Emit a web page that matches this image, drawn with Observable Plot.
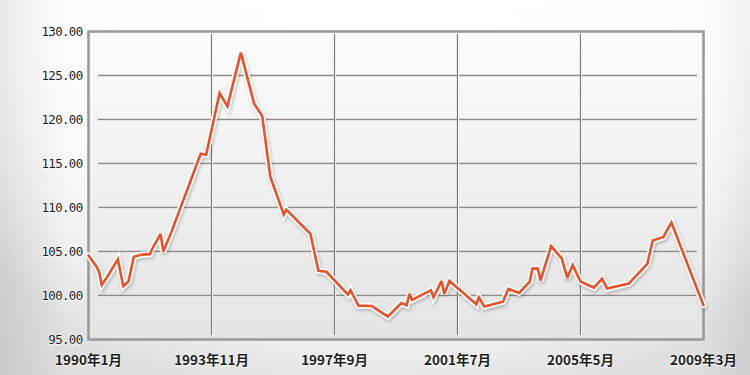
<!DOCTYPE html>
<html>
<head>
<meta charset="utf-8">
<script src="https://cdn.jsdelivr.net/npm/d3@7"></script>
<script src="https://cdn.jsdelivr.net/npm/@observablehq/plot@0.6"></script>
<style>
  html, body { margin: 0; padding: 0; }
  body {
    width: 750px; height: 375px; overflow: hidden;
    background:
      radial-gradient(ellipse 62% 90% at 52% 22%, rgba(255,255,255,1) 0%, rgba(255,255,255,0.85) 60%, rgba(255,255,255,0) 100%),
      linear-gradient(to right, rgba(0,0,0,0.10) 0%, rgba(0,0,0,0) 9%, rgba(0,0,0,0) 93%, rgba(0,0,0,0.08) 100%),
      linear-gradient(to bottom, #fafafa 0%, #dedede 100%);
  }
  #chart svg text { text-shadow: 0 1px 1px #fff, 0 0 2px #fff; }
</style>
</head>
<body>
<svg width="0" height="0" style="position:absolute">
  <defs>
    <linearGradient id="plotbg" x1="0" y1="0" x2="0" y2="1">
      <stop offset="0" stop-color="#fcfcfc"/>
      <stop offset="1" stop-color="#e4e4e4"/>
    </linearGradient>
    <filter id="lineshadow" x="-5%" y="-10%" width="110%" height="130%">
      <feDropShadow dx="1" dy="2" stdDeviation="1.8" flood-color="#000" flood-opacity="0.22"/>
    </filter>
  </defs>
</svg>
<div id="chart"></div>
<script>
// Monthly index values
const dates = [
  "1990-01","1990-04","1990-05","1990-06","1990-08","1990-12","1991-02","1991-04","1991-06","1991-09",
  "1991-12","1992-01","1992-04","1992-05","1992-08","1993-07","1993-09","1994-02","1994-05","1994-10",
  "1995-03","1995-06","1995-09","1996-02","1996-03","1996-12","1997-03","1997-06","1998-02","1998-03",
  "1998-06","1998-11","1999-05","1999-10","1999-12","2000-01","2000-02","2000-09","2000-10","2001-01",
  "2001-02","2001-04","2002-02","2002-03","2002-05","2002-12","2003-02","2003-06","2003-10","2003-11",
  "2004-01","2004-02","2004-06","2004-10","2004-12","2005-02","2005-05","2005-10","2006-01","2006-03",
  "2006-11","2007-06","2007-08","2007-12","2008-03","2008-11","2009-03"
];
const values = [
  104.55,103.3,102.7,101.2,102.1,104.1,101.05,101.6,104.4,104.65,
  104.7,105.4,107.0,105.0,107.2,116.1,116.0,123.0,121.5,127.6,
  121.8,120.4,113.5,109.2,109.75,107.0,102.8,102.7,100.1,100.6,
  98.85,98.8,97.6,99.15,98.9,100.2,99.5,100.6,99.8,101.65,
  100.2,101.65,99.0,99.8,98.75,99.3,100.75,100.3,101.55,103.05,
  103.05,101.7,105.6,104.2,102.0,103.45,101.6,100.9,101.9,100.8,
  101.35,103.6,106.25,106.65,108.3,101.95,98.9
];
const xTickDates = ["1990-01","1993-11","1997-09","2001-07","2005-05","2009-03"];
const xTickLabels = ["1990年1月","1993年11月","1997年9月","2001年7月","2005年5月","2009年3月"];
const yTicks = [95,100,105,110,115,120,125,130];

const parse = d3.utcParse("%Y-%m");
const data = dates.map((d, i) => ({date: parse(d), value: values[i]}));
const xTicks = xTickDates.map(parse);
const labelOf = new Map(xTicks.map((d, i) => [+d, xTickLabels[i]]));
const innerY = yTicks.slice(1, -1);
const innerX = xTicks.slice(1, -1);

const chart = Plot.plot({
  width: 750,
  height: 375,
  marginLeft: 88,
  marginRight: 47,
  marginTop: 31,
  marginBottom: 36,
  style: {background: "transparent", overflow: "visible"},
  x: {type: "utc", domain: [xTicks[0], xTicks[xTicks.length - 1]], ticks: xTicks, tickFormat: d => labelOf.get(+d)},
  y: {domain: [95, 130], ticks: yTicks, tickFormat: d => d.toFixed(2)},
  marks: [
    Plot.frame({fill: "url(#plotbg)", stroke: null}),
    Plot.ruleY(innerY, {stroke: "#ffffff", strokeWidth: 1, dy: 1.2, insetLeft: 10, insetRight: 6}),
    Plot.ruleY(innerY, {stroke: "#8e8a88", strokeWidth: 1.3, insetLeft: 10, insetRight: 6}),
    Plot.ruleX(innerX, {stroke: "#ffffff", strokeWidth: 1, dx: 1, insetTop: 3, insetBottom: 4}),
    Plot.ruleX(innerX, {stroke: "#7c7876", strokeWidth: 1.2, insetTop: 3, insetBottom: 4}),
    Plot.frame({stroke: "#9d9997", strokeWidth: 2.6}),
    Plot.line(data, {x: "date", y: "value", stroke: "#ffffff", strokeWidth: 6, strokeLinejoin: "miter", strokeMiterlimit: 3}),
    Plot.line(data, {x: "date", y: "value", stroke: "#ee4f26", strokeWidth: 2.6, strokeLinejoin: "miter", strokeMiterlimit: 3}),
    Plot.axisY({ticks: yTicks, tickSize: 0, tickPadding: 6, tickFormat: d => d.toFixed(2),
      fontSize: 12.5, fill: "#1e1e1e", fontFamily: "DejaVu Sans Mono", label: null}),
    Plot.axisX({ticks: xTicks, tickSize: 0, tickPadding: 16, tickFormat: d => labelOf.get(+d),
      fontSize: 13.5, fontWeight: "bold", fill: "#1e1e1e", fontFamily: "Noto Sans CJK JP", label: null})
  ]
});

document.getElementById("chart").appendChild(chart);
// soft drop shadow under the white outline of the line
const lines = chart.querySelectorAll('g[aria-label="line"]');
if (lines.length) lines[0].setAttribute("filter", "url(#lineshadow)");
// tighter y label spacing like the reference
chart.querySelectorAll('g[aria-label="y-axis tick label"] text').forEach(t => t.setAttribute("letter-spacing", "-0.7"));
</script>
</body>
</html>
